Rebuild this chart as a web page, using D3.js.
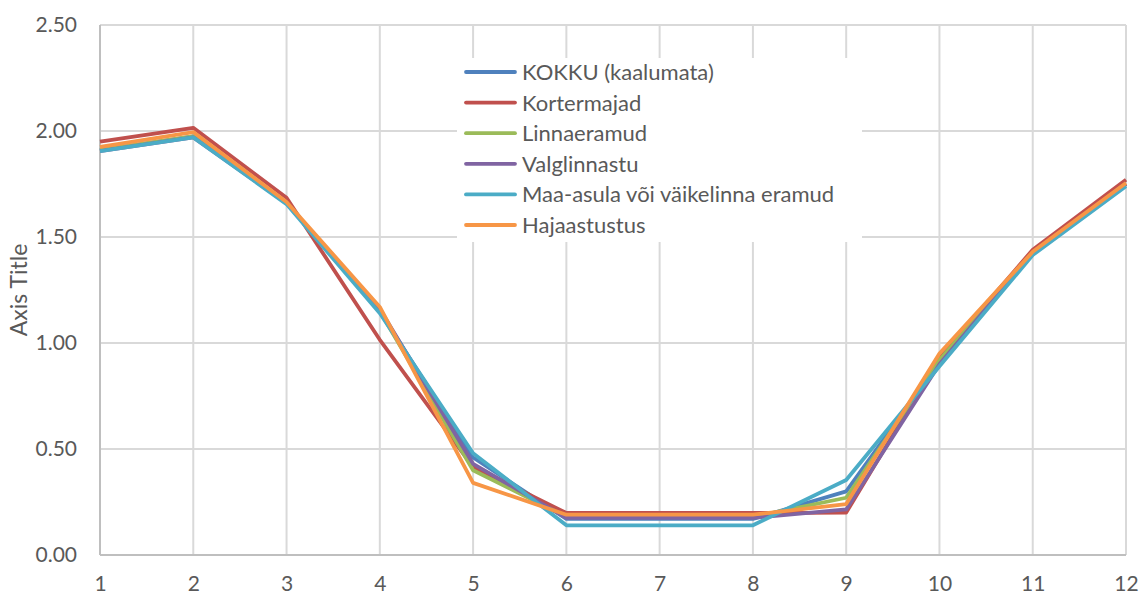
<!DOCTYPE html>
<html>
<head>
<meta charset="utf-8">
<script src="https://cdn.jsdelivr.net/npm/d3@7"></script>
<style>
  body { margin: 0; background: #fff; }
  svg text { font-family: Lato, "Open Sans", sans-serif; fill: #595959; }
</style>
</head>
<body>
<div id="chart"></div>
<script>
// categories on the x axis
const categories = [1, 2, 3, 4, 5, 6, 7, 8, 9, 10, 11, 12];

// series values
const kokku      = [1.91, 1.975, 1.66, 1.15, 0.46, 0.17, 0.17, 0.17, 0.30, 0.91, 1.42, 1.75];
const kortermaja = [1.95, 2.015, 1.685, 1.015, 0.415, 0.198, 0.198, 0.198, 0.20, 0.93, 1.44, 1.77];
const linnaeram  = [1.91, 1.975, 1.66, 1.15, 0.40, 0.18, 0.18, 0.18, 0.27, 0.92, 1.425, 1.75];
const valglinn   = [1.905, 1.97, 1.66, 1.16, 0.43, 0.175, 0.175, 0.175, 0.215, 0.90, 1.425, 1.75];
const maaasula   = [1.905, 1.97, 1.655, 1.14, 0.48, 0.14, 0.14, 0.14, 0.354, 0.89, 1.415, 1.74];
const hajaast    = [1.925, 1.995, 1.665, 1.17, 0.34, 0.19, 0.19, 0.19, 0.24, 0.95, 1.43, 1.755];

const seriesNames = ["KOKKU (kaalumata)", "Kortermajad", "Linnaeramud", "Valglinnastu",
                     "Maa-asula või väikelinna eramud", "Hajaastustus"];
const seriesColors = ["#4F81BD", "#C0504D", "#9BBB59", "#8064A2", "#4BACC6", "#F79646"];
const yTicks = [0, 0.5, 1.0, 1.5, 2.0, 2.5];

const series = [kokku, kortermaja, linnaeram, valglinn, maaasula, hajaast].map((vals, i) => ({
    name: seriesNames[i],
    color: seriesColors[i],
    values: vals
}));

const W = 1141, H = 595;
const margin = {top: 25, right: 15, bottom: 40, left: 100};
const width = W - margin.left - margin.right;
const height = H - margin.top - margin.bottom;

const svg = d3.select("#chart").append("svg")
    .attr("width", W)
    .attr("height", H);

const g = svg.append("g")
    .attr("transform", `translate(${margin.left},${margin.top})`);

const x = d3.scaleLinear().domain([1, 12]).range([0, width]);
const y = d3.scaleLinear().domain([0, 2.5]).range([height, 0]);

// horizontal grid
g.append("g").selectAll("line")
    .data(yTicks)
    .enter().append("line")
    .attr("x1", 0).attr("x2", width)
    .attr("y1", d => y(d)).attr("y2", d => y(d))
    .attr("stroke", "#d9d9d9")
    .attr("stroke-width", 2);

// vertical grid
g.append("g").selectAll("line")
    .data(categories)
    .enter().append("line")
    .attr("x1", d => x(d)).attr("x2", d => x(d))
    .attr("y1", 0).attr("y2", height)
    .attr("stroke", "#d9d9d9")
    .attr("stroke-width", 2);

// left + bottom axis lines
g.append("line")
    .attr("x1", 0).attr("x2", 0).attr("y1", 0).attr("y2", height)
    .attr("stroke", "#bfbfbf").attr("stroke-width", 2);
g.append("line")
    .attr("x1", 0).attr("x2", width).attr("y1", height).attr("y2", height)
    .attr("stroke", "#bfbfbf").attr("stroke-width", 2);

// y axis labels
const yAxis = d3.axisLeft(y).tickValues(yTicks).tickFormat(d3.format(".2f")).tickSize(0).tickPadding(23);
g.append("g").call(yAxis)
    .call(s => s.select(".domain").remove())
    .selectAll("text")
    .style("font-size", "21px")
    .style("fill", "#595959");

// x axis labels
const xAxis = d3.axisBottom(x).tickValues(categories).tickFormat(d3.format("d")).tickSize(0).tickPadding(21);
g.append("g").attr("transform", `translate(0,${height})`).call(xAxis)
    .call(s => s.select(".domain").remove())
    .selectAll("text")
    .style("font-size", "21px")
    .style("fill", "#595959");

// axis title
svg.append("text")
    .attr("transform", `translate(27,${margin.top + height / 2}) rotate(-90)`)
    .attr("text-anchor", "middle")
    .style("font-size", "23px")
    .text("Axis Title");

// lines
const line = d3.line()
    .x((d, i) => x(categories[i]))
    .y(d => y(d));

g.append("g").selectAll("path")
    .data(series)
    .enter().append("path")
    .attr("d", d => line(d.values))
    .attr("fill", "none")
    .attr("stroke", d => d.color)
    .attr("stroke-width", 3.8)
    .attr("stroke-linejoin", "round");

// legend (box covers the grid behind it)
svg.append("rect")
    .attr("x", 457).attr("y", 58).attr("width", 405).attr("height", 184)
    .attr("fill", "#fff");
const legend = svg.append("g").attr("transform", "translate(466,72)");
const rows = legend.selectAll("g")
    .data(series)
    .enter().append("g")
    .attr("transform", (d, i) => `translate(0,${i * 30.6})`);
rows.append("line")
    .attr("x1", 0).attr("x2", 49)
    .attr("stroke", d => d.color)
    .attr("stroke-width", 3.8)
    .attr("stroke-linecap", "round");
rows.append("text")
    .attr("x", 56)
    .attr("dy", "0.36em")
    .style("font-size", "22px")
    .text(d => d.name);
</script>
</body>
</html>
